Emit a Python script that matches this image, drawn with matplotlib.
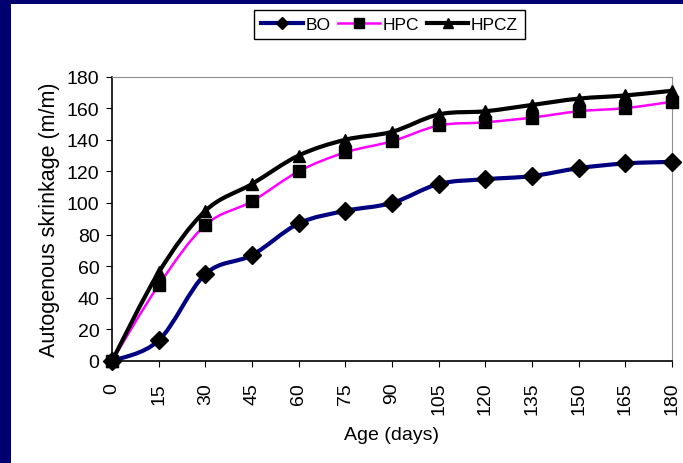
import numpy as np
import matplotlib.pyplot as plt
from matplotlib.path import Path
from matplotlib.patches import PathPatch, Rectangle
from matplotlib.lines import Line2D

plt.rcParams['font.family'] = ['Liberation Sans', 'DejaVu Sans']

# Donnees
age = [0, 15, 30, 45, 60, 75, 90, 105, 120, 135, 150, 165, 180]
bo = [0, 13, 55, 67, 87, 95, 100, 112, 115, 117, 122, 125, 126]
hpc = [0, 48, 86, 101, 120, 132, 139, 149, 151, 154, 158, 160, 164]
hpcz = [0, 56, 95, 112, 130, 140, 145, 156, 158, 162, 166, 168, 171]

series = [
    ("BO", bo, "#000080", 3.0, "D", 9),
    ("HPC", hpc, "#FF00FF", 1.8, "s", 8),
    ("HPCZ", hpcz, "black", 3.0, "^", 9),
]


def smooth_path(x, y):
    # courbe lissee type Excel (bezier Catmull-Rom)
    p = np.column_stack([x, y]).astype(float)
    verts = [p[0]]
    codes = [Path.MOVETO]
    n = len(p)
    for i in range(n - 1):
        p0 = p[i - 1] if i > 0 else p[i]
        p3 = p[i + 2] if i + 2 < n else p[i + 1]
        c1 = p[i] + (p[i + 1] - p0) / 6
        c2 = p[i + 1] - (p3 - p[i]) / 6
        verts += [c1, c2, p[i + 1]]
        codes += [Path.CURVE4] * 3
    return Path(verts, codes)


fig = plt.figure(figsize=(6.83, 4.64), dpi=100)
fig.patch.set_facecolor("white")

# cadre bleu fonce
fig.patches.append(Rectangle((0, 0), 11 / 683, 1, transform=fig.transFigure,
                             facecolor="#000070", edgecolor="none", zorder=0))
fig.patches.append(Rectangle((0, 1 - 5 / 464), 1, 5 / 464, transform=fig.transFigure,
                             facecolor="#000070", edgecolor="none", zorder=0))

ax = fig.add_axes([112 / 683, 102 / 464, 560 / 683, 284.5 / 464])

handles = []
for name, vals, col, lw, mk, ms in series:
    ax.add_patch(PathPatch(smooth_path(age, vals), facecolor="none",
                           edgecolor=col, lw=lw, capstyle="round",
                           joinstyle="round", zorder=2))
for name, vals, col, lw, mk, ms in series:
    ax.plot(age, vals, linestyle="none", marker=mk, markersize=ms,
            color="black", clip_on=False, zorder=3)
    handles.append(Line2D([], [], color=col, lw=lw, marker=mk,
                          markersize=6.5, markerfacecolor="black",
                          markeredgecolor="black"))

ax.set_xlim(0, 180)
ax.set_ylim(0, 180)
ax.set_xticks(age)
ax.set_yticks(range(0, 181, 20))
ax.tick_params(axis="x", labelrotation=90, labelsize=14, length=4, pad=11, direction="out")
ax.tick_params(axis="y", labelsize=14, length=4, pad=5, direction="out")

for s in ["top", "right"]:
    ax.spines[s].set_color("#909090")
ax.spines["left"].set_linewidth(1.2)
ax.spines["bottom"].set_linewidth(1.2)

ax.set_xlabel("Age (days)", fontsize=14)
ax.xaxis.set_label_coords(0.5, -0.23)
ax.set_ylabel("Autogenous skrinkage (m/m)", fontsize=15.5)
ax.yaxis.set_label_coords(-0.092, 0.5)

fig.legend(handles, ["BO", "HPC", "HPCZ"], loc="center",
           bbox_to_anchor=(389.5 / 683, 1 - 25.7 / 464), ncol=3, fontsize=12.5,
           frameon=True, fancybox=False, edgecolor="black", framealpha=1,
           handlelength=2.4, handletextpad=0.15, columnspacing=0.45,
           borderpad=0.4)

plt.savefig("out.png", dpi=100)
